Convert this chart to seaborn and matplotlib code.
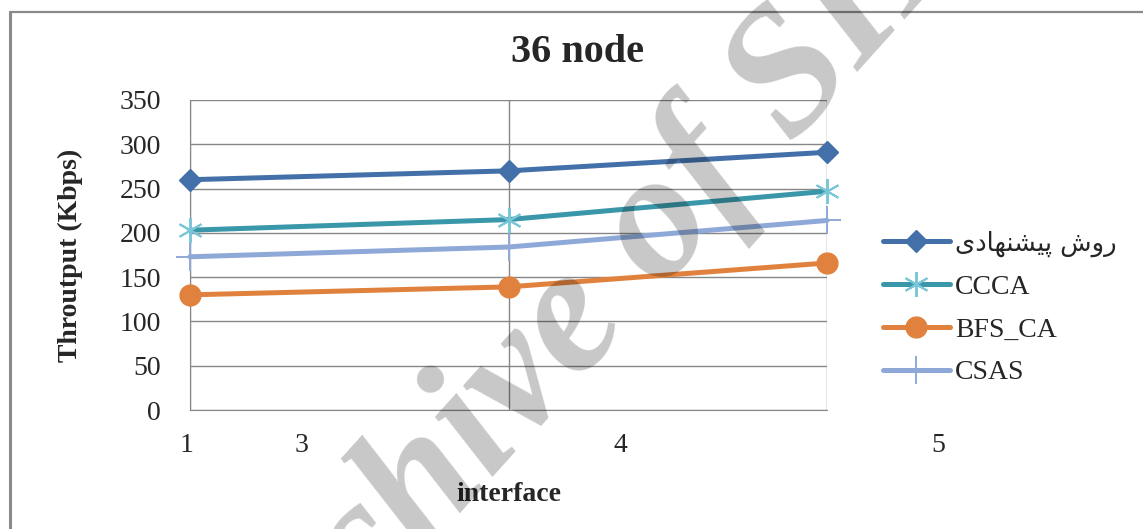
import matplotlib
matplotlib.use("Agg")
import matplotlib.pyplot as plt
from matplotlib.lines import Line2D
from matplotlib.ticker import FixedLocator, NullFormatter
import pandas as pd
import seaborn as sns

# ---- data -------------------------------------------------------------
title = "36 node"
x_title = "interface"
y_title = "Throutput (Kbps)"
x_tick_labels = ["1", "3", "4", "5"]
series_names = ["روش پیشنهادی", "CCCA", "BFS_CA", "CSAS"]
proposed = [260, 270, 291]
ccca = [203, 215, 247]
bfs_ca = [130, 139, 166]
csas = [173, 184, 214]
watermark = "Archive of SID"

# ---- simple Persian shaping (matplotlib has no complex text layout) ----
_FORMS = {  # isolated, final, initial, medial
    "ا": ("\uFE8D", "\uFE8E", None, None),
    "د": ("\uFEA9", "\uFEAA", None, None),
    "ر": ("\uFEAD", "\uFEAE", None, None),
    "و": ("\uFEED", "\uFEEE", None, None),
    "ش": ("\uFEB5", "\uFEB6", "\uFEB7", "\uFEB8"),
    "ن": ("\uFEE5", "\uFEE6", "\uFEE7", "\uFEE8"),
    "ه": ("\uFEE9", "\uFEEA", "\uFEEB", "\uFEEC"),
    "پ": ("\uFB56", "\uFB57", "\uFB58", "\uFB59"),
    "ی": ("\uFBFC", "\uFBFD", "\uFBFE", "\uFBFF"),
}


def shape_fa(text):
    out = []
    for i, ch in enumerate(text):
        if ch not in _FORMS:
            out.append(ch)
            continue
        prev = text[i - 1] if i > 0 else ""
        nxt = text[i + 1] if i + 1 < len(text) else ""
        joins_prev = prev in _FORMS and _FORMS[prev][2] is not None
        joins_next = nxt in _FORMS and _FORMS[ch][2] is not None
        iso, fin, ini, med = _FORMS[ch]
        if joins_prev and joins_next:
            out.append(med)
        elif joins_prev:
            out.append(fin)
        elif joins_next:
            out.append(ini)
        else:
            out.append(iso)
    return "".join(reversed(out))


# ---- styling ----------------------------------------------------------
sns.set_style("white")
plt.rcParams["font.family"] = ["Liberation Serif", "DejaVu Sans"]
FS = 20

W, H = 1143, 529
fig = plt.figure(figsize=(W / 100, H / 100), dpi=100)
ax = fig.add_axes([190 / W, 1 - 410 / H, 637 / W, 310 / H])
ax.set_facecolor("none")

grid_c = "#868686"

styles = [
    dict(color="#4470a9", marker="D", ms=11, mfc="#4470a9", mec="#4470a9", mew=1),
    dict(color="#3a97a9", marker=(6, 2, 0), ms=18, mfc="#79c6d6", mec="#79c6d6", mew=1.4),
    dict(color="#e0823d", marker="o", ms=15, mfc="#e0823d", mec="#e0823d", mew=1),
    dict(color="#8ea9d8", marker="+", ms=20, mfc="#8ea9d8", mec="#8ea9d8", mew=1.4),
]

idx = list(range(len(proposed)))
frames = []
for name, vals in zip(series_names, [proposed, ccca, bfs_ca, csas]):
    frames.append(pd.DataFrame({"pos": idx, "value": vals, "series": name}))
df = pd.concat(frames, ignore_index=True)

handles = []
for name, st in zip(series_names, styles):
    sub = df[df["series"] == name]
    sns.lineplot(data=sub, x="pos", y="value", ax=ax, color=st["color"],
                 lw=3.6, marker=st["marker"], markersize=st["ms"],
                 markerfacecolor=st["mfc"], markeredgecolor=st["mec"],
                 markeredgewidth=st["mew"], legend=False, zorder=5)
    handles.append(Line2D([], [], color=st["color"], lw=3.6, marker=st["marker"],
                          markersize=st["ms"], markerfacecolor=st["mfc"],
                          markeredgecolor=st["mec"], markeredgewidth=st["mew"]))
for ln in ax.lines:
    ln.set_clip_on(False)

ax.set_xlim(0, 2)
ax.set_ylim(0, 350)
ax.set_yticks(range(0, 351, 50))

# vertical grid at each data point; category labels sit between them
ax.xaxis.set_major_locator(FixedLocator(idx))
ax.xaxis.set_major_formatter(NullFormatter())
ax.tick_params(axis="x", which="major", length=8, width=1, color=grid_c, direction="out")
ax.tick_params(axis="y", length=12, width=1, color=grid_c, direction="out", pad=9,
               labelsize=FS)
label_pos = [-0.01, 0.35, 1.35, 2.35]
for xp, lab in zip(label_pos, x_tick_labels):
    ax.text(xp, -0.113, lab, transform=ax.get_xaxis_transform(), ha="center",
            va="center", fontsize=FS, clip_on=False)

ax.grid(True, which="major", color=grid_c, lw=1)
for s in ax.spines.values():
    s.set_visible(False)
ax.spines["left"].set_visible(True)
ax.spines["left"].set_color(grid_c)
ax.spines["bottom"].set_visible(True)
ax.spines["bottom"].set_color(grid_c)

ax.set_xlabel(x_title, fontsize=FS, fontweight="bold")
ax.xaxis.set_label_coords(0.5, -0.232)
ax.set_ylabel(y_title, fontsize=FS, fontweight="bold")
ax.yaxis.set_label_coords(-0.168, 0.5)

fig.text(0.505, 1 - 52 / H, title, ha="center", va="center", fontsize=29,
         fontweight="bold")

labels = [shape_fa(series_names[0])] + series_names[1:]
leg = fig.legend(handles, labels, loc="upper left",
                 bbox_to_anchor=(858 / W, 1 - 206 / H), frameon=False,
                 fontsize=FS, handlelength=2.4, handletextpad=0.2,
                 labelspacing=0.62)
leg.get_texts()[0].set_fontfamily("DejaVu Sans")
leg.get_texts()[0].set_fontsize(18.5)

# chart frame
fig.add_artist(Line2D([10 / W, 1], [1 - 12 / H] * 2, color="#8a8a8a", lw=1.6))
fig.add_artist(Line2D([10 / W] * 2, [0, 1 - 12 / H], color="#8a8a8a", lw=2.2))

# translucent watermark over the chart
fig.text(0.514, 0.405, watermark, ha="center", va="center", rotation=48,
         fontsize=130, fontweight="bold", fontstyle="italic", color="black",
         alpha=0.22, zorder=10)

fig.savefig("out.png", dpi=100)
